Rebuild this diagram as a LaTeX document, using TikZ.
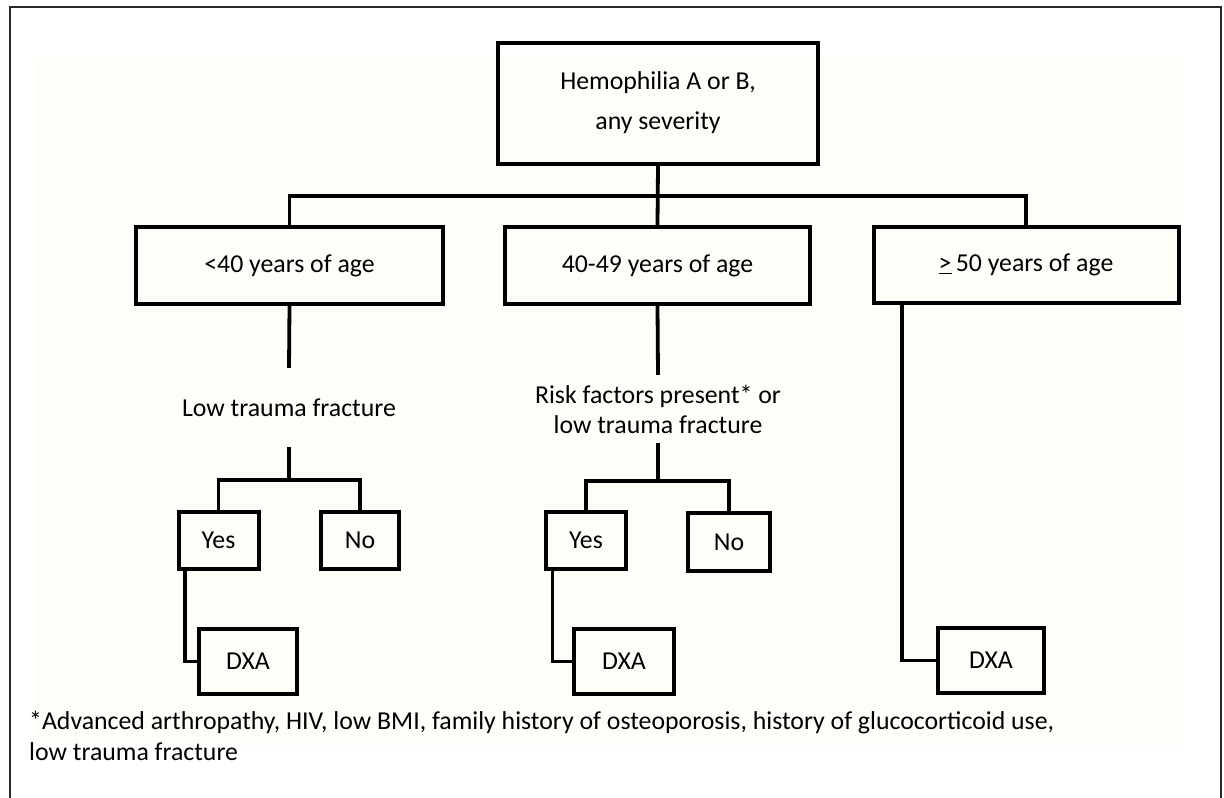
\documentclass[tikz,border=0pt]{standalone}
\usepackage{fontspec}
\setmainfont{Carlito}
\definecolor{cream}{RGB}{254,254,249}
\definecolor{framegray}{RGB}{40,40,40}
\begin{document}
\begin{tikzpicture}[x=1pt,y=-1pt,
  box/.style={draw=black,line width=4pt,rectangle,inner sep=0pt,align=center,font=\fontsize{25.8}{30}\selectfont},
  lbl/.style={inner sep=0pt,align=center,font=\fontsize{25.8}{30}\selectfont},
  conn/.style={draw=black,line width=3.8pt}]
\useasboundingbox (0,0) rectangle (1224,798);
\fill[white] (0,0) rectangle (1224,798);
\fill[cream] (35,57) rectangle (1182,745);
\draw[line width=1.5pt,framegray] (10,7) rectangle (1221,805);
% nodes
\node[box,minimum width=320pt,minimum height=121pt,font=\fontsize{25.8}{40}\selectfont] (top) at (658,103) {Hemophilia A or B,\\any severity};
\node[box,minimum width=307pt,minimum height=77pt] (b1) at (289.5,265.5) {<40 years of age};
\node[box,minimum width=305pt,minimum height=77pt] (b2) at (657.5,265.5) {40-49 years of age};
\node[box,minimum width=305pt,minimum height=76pt] (b3) at (1026,265) {\underline{>}\,50 years of age};
\node[lbl,minimum height=79pt] (low) at (289,407.5) {Low trauma fracture};
\node[lbl,minimum height=68pt] (risk) at (658,409) {Risk factors present* or\\low trauma fracture};
\node[box,minimum width=80pt,minimum height=57pt] (yes1) at (218.5,540.5) {Yes};
\node[box,minimum width=78pt,minimum height=57pt] (no1) at (360,540.5) {No};
\node[box,minimum width=98pt,minimum height=65pt] (dxa1) at (248,661.5) {DXA};
\node[box,minimum width=80pt,minimum height=57pt] (yes2) at (586,540.5) {Yes};
\node[box,minimum width=82pt,minimum height=58pt] (no2) at (729,542) {No};
\node[box,minimum width=100pt,minimum height=65pt] (dxa2) at (624,661.5) {DXA};
\node[box,minimum width=106pt,minimum height=65pt] (dxa3) at (991,660.5) {DXA};
\node[lbl,anchor=north west,align=left,font=\fontsize{25.8}{31}\selectfont] (foot) at (29,711) {*Advanced arthropathy, HIV, low BMI, family history of osteoporosis, history of glucocorticoid use,\\low trauma fracture};
% connectors
\coordinate (bus) at (658,196);
\draw[conn] (top.south) -- (b2.north);
\draw[conn] (b1.north) |- (bus) -| (b3.north);
\draw[conn] (b1.south) -- (low.north);
\draw[conn] (low.south) -- ++(0,33) coordinate (s1);
\draw[conn] (yes1.north) |- (s1) -| (no1.north);
\draw[conn] ([xshift=8.5pt]yes1.south west) |- (dxa1.west);
\draw[conn] (b2.south) -- (risk.north);
\draw[conn] (risk.south) -- ++(0,38) coordinate (s2);
\draw[conn] (yes2.north) |- (s2) -| (no2.north);
\draw[conn] ([xshift=8.5pt]yes2.south west) |- (dxa2.west);
\draw[conn] ([xshift=30.5pt]b3.south west) |- (dxa3.west);
\end{tikzpicture}
\end{document}
